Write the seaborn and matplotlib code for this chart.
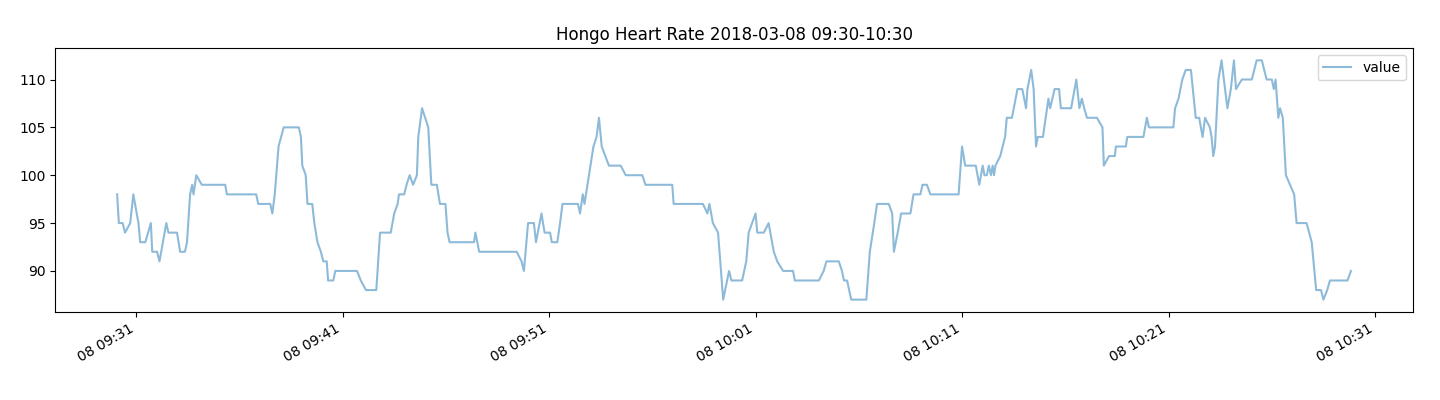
import pandas as pd
import matplotlib
matplotlib.use("Agg")
import matplotlib.pyplot as plt
import matplotlib.dates as mdates
import seaborn as sns

# heart rate readings (clock time, bpm)
times = [
    "09:30:05", "09:30:10", "09:30:21", "09:30:28", "09:30:43", "09:30:52",
    "09:31:07", "09:31:12", "09:31:27", "09:31:43", "09:31:47", "09:32:01",
    "09:32:08", "09:32:28", "09:32:34", "09:32:59", "09:33:08", "09:33:22",
    "09:33:28", "09:33:37", "09:33:43", "09:33:47", "09:33:55", "09:34:11",
    "09:35:19", "09:35:24", "09:36:49", "09:36:55", "09:37:30", "09:37:36",
    "09:37:43", "09:37:54", "09:38:09", "09:38:53", "09:38:59", "09:39:03",
    "09:39:13", "09:39:18", "09:39:32", "09:39:38", "09:39:47", "09:39:57",
    "09:40:04", "09:40:14", "09:40:18", "09:40:33", "09:40:39", "09:41:42",
    "09:41:53", "09:42:08", "09:42:38", "09:42:49", "09:43:20", "09:43:30",
    "09:43:40", "09:43:44", "09:43:59", "09:44:06", "09:44:15", "09:44:25",
    "09:44:36", "09:44:40", "09:44:51", "09:45:09", "09:45:18", "09:45:34",
    "09:45:43", "09:45:59", "09:46:05", "09:46:11", "09:47:22", "09:47:26",
    "09:47:37", "09:49:26", "09:49:40", "09:49:47", "09:49:59", "09:50:16",
    "09:50:22", "09:50:38", "09:50:47", "09:51:03", "09:51:08", "09:51:24",
    "09:51:32", "09:51:39", "09:52:24", "09:52:30", "09:52:38", "09:52:43",
    "09:52:56", "09:53:09", "09:53:18", "09:53:25", "09:53:33", "09:53:54",
    "09:54:28", "09:54:43", "09:55:31", "09:55:40", "09:56:58", "09:57:02",
    "09:58:27", "09:58:40", "09:58:46", "09:58:56", "09:59:11", "09:59:26",
    "09:59:43", "09:59:50", "10:00:21", "10:00:33", "10:00:40", "10:01:00",
    "10:01:05", "10:01:24", "10:01:38", "10:01:53", "10:02:03", "10:02:20",
    "10:02:49", "10:02:54", "10:04:04", "10:04:18", "10:04:26", "10:05:02",
    "10:05:11", "10:05:17", "10:05:26", "10:05:38", "10:06:22", "10:06:32",
    "10:06:45", "10:06:53", "10:07:27", "10:07:37", "10:07:42", "10:07:53",
    "10:08:03", "10:08:30", "10:08:39", "10:08:59", "10:09:05", "10:09:18",
    "10:09:28", "10:10:50", "10:11:00", "10:11:09", "10:11:40", "10:11:50",
    "10:12:00", "10:12:05", "10:12:12", "10:12:18", "10:12:24", "10:12:29",
    "10:12:33", "10:12:37", "10:12:51", "10:13:05", "10:13:10", "10:13:25",
    "10:13:41", "10:13:55", "10:14:06", "10:14:10", "10:14:21", "10:14:28",
    "10:14:35", "10:14:40", "10:14:55", "10:15:11", "10:15:16", "10:15:29",
    "10:15:42", "10:15:47", "10:16:17", "10:16:32", "10:16:41", "10:16:48",
    "10:16:55", "10:17:03", "10:17:32", "10:17:48", "10:17:52", "10:18:07",
    "10:18:24", "10:18:27", "10:18:56", "10:19:00", "10:19:47", "10:19:57",
    "10:20:03", "10:21:14", "10:21:19", "10:21:29", "10:21:40", "10:21:50",
    "10:22:05", "10:22:19", "10:22:29", "10:22:39", "10:22:46", "10:23:00",
    "10:23:05", "10:23:10", "10:23:15", "10:23:25", "10:23:34", "10:23:51",
    "10:24:01", "10:24:10", "10:24:16", "10:24:33", "10:25:02", "10:25:16",
    "10:25:31", "10:25:45", "10:26:00", "10:26:06", "10:26:11", "10:26:19",
    "10:26:24", "10:26:32", "10:26:41", "10:26:53", "10:27:05", "10:27:12",
    "10:27:41", "10:27:56", "10:28:09", "10:28:23", "10:28:30", "10:28:41",
    "10:28:49", "10:29:40", "10:29:50",
]
values = [
    98, 95, 95, 94, 95, 98,
    95, 93, 93, 95, 92, 92,
    91, 95, 94, 94, 92, 92,
    93, 98, 99, 98, 100, 99,
    99, 98, 98, 97, 97, 96,
    98, 103, 105, 105, 104, 101,
    100, 97, 97, 95, 93, 92,
    91, 91, 89, 89, 90, 90,
    89, 88, 88, 94, 94, 96,
    97, 98, 98, 99, 100, 99,
    100, 104, 107, 105, 99, 99,
    97, 97, 94, 93, 93, 94,
    92, 92, 91, 90, 95, 95,
    93, 96, 94, 94, 93, 93,
    95, 97, 97, 96, 98, 97,
    100, 103, 104, 106, 103, 101,
    101, 100, 100, 99, 99, 97,
    97, 96, 97, 95, 94, 87,
    90, 89, 89, 91, 94, 96,
    94, 94, 95, 92, 91, 90,
    90, 89, 89, 90, 91, 91,
    90, 89, 89, 87, 87, 92,
    95, 97, 97, 96, 92, 94,
    96, 96, 98, 98, 99, 99,
    98, 98, 103, 101, 101, 99,
    101, 100, 100, 101, 100, 101,
    100, 101, 102, 104, 106, 106,
    109, 109, 107, 109, 111, 109,
    103, 104, 104, 108, 107, 109,
    109, 107, 107, 110, 107, 108,
    107, 106, 106, 105, 101, 102,
    102, 103, 103, 104, 104, 106,
    105, 105, 107, 108, 110, 111,
    111, 106, 106, 104, 106, 105,
    104, 102, 103, 110, 112, 107,
    109, 112, 109, 110, 110, 112,
    112, 110, 110, 109, 110, 106,
    107, 106, 100, 99, 98, 95,
    95, 93, 88, 88, 87, 88,
    89, 89, 90,
]

df = pd.DataFrame({
    "time": pd.to_datetime(["2018-03-08 " + t for t in times]),
    "value": values,
})

fig, ax = plt.subplots(figsize=(14.4, 4), dpi=100)
fig.subplots_adjust(left=0.0385, right=0.981, top=0.879, bottom=0.221)

sns.lineplot(data=df, x="time", y="value", ax=ax, alpha=0.5, label="value")

ax.xaxis.set_major_locator(mdates.MinuteLocator(byminute=[1, 11, 21, 31, 41, 51]))
ax.xaxis.set_major_formatter(mdates.DateFormatter("%d %H:%M"))
plt.setp(ax.get_xticklabels(), rotation=30, ha="right")
ax.set_xlabel("")
ax.set_ylabel("")
ax.set_title("Hongo Heart Rate 2018-03-08 09:30-10:30")
ax.legend(loc="upper right")

fig.savefig("out.png")
